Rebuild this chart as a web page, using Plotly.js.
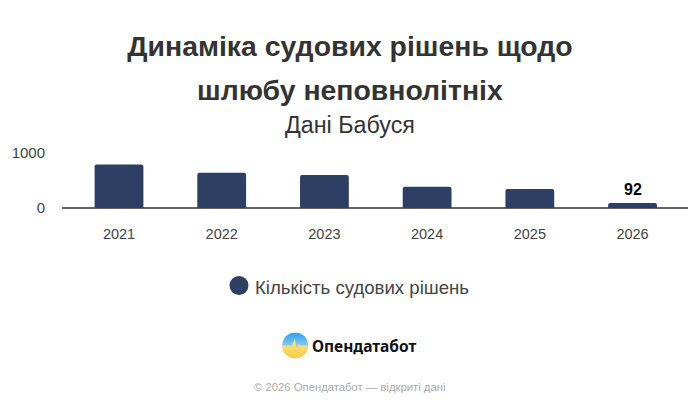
<!DOCTYPE html>
<html>
<head>
<meta charset="utf-8">
<script src="https://cdn.plot.ly/plotly-3.0.1.min.js"></script>
<style>html,body{margin:0;padding:0;background:#fff}#c{width:700px;height:408px}</style>
</head>
<body>
<div id="c"></div>
<script>
const years = ['2021','2022','2023','2024','2025','2026'];
const decisions = [790,640,600,385,345,92];
const barLabels = ['','','','','','92'];
const yTicks = [0,1000];
const seriesName = 'Кількість судових рішень';
const titleLine1 = 'Динаміка судових рішень щодо';
const titleLine2 = 'шлюбу неповнолітніх';
const subtitleText = 'Дані Бабуся';
const brandName = 'Опендатабот';
const footerText = '© 2026 Опендатабот — відкриті дані';

const FONT = '"Liberation Sans", Arial, sans-serif';
const logoSvg = `<svg xmlns="http://www.w3.org/2000/svg" width="104" height="104" viewBox="0 0 26 26">
<defs><linearGradient id="b" x1="0" y1="0" x2="0" y2="1"><stop offset="0" stop-color="#2f9bea"/><stop offset="0.55" stop-color="#8fd0f0"/></linearGradient>
<linearGradient id="y" x1="0" y1="0" x2="0" y2="1"><stop offset="0.2" stop-color="#fbe27a"/><stop offset="1" stop-color="#f8cb45"/></linearGradient></defs>
<circle cx="13" cy="13" r="13" fill="url(#b)"/>
<path d="M0 13 H10 L12.5 6 L14.5 15.5 L16.5 11.5 L18 13 H26 A13 13 0 0 1 0 13 Z" fill="url(#y)"/>
</svg>`;

const PH = 55;
const px = x => (x-62)/626;
const py = y => (208-y)/PH;

const data = [{
  type:'bar', x:years, y:decisions, name:seriesName,
  width:0.475,
  marker:{color:'#2d3f63', cornerradius:2},
  hoverinfo:'skip', showlegend:false
}];

const valueLabels = years.map((yr,i)=>({text:barLabels[i], x:i, y:decisions[i], xref:'x', yref:'y',
  showarrow:false, xanchor:'center', yanchor:'bottom', yshift:3,
  font:{family:FONT,size:16,color:'#000',weight:700}})).filter(a=>a.text);

const layout = {
  width:700, height:408, paper_bgcolor:'#fff', plot_bgcolor:'#fff',
  margin:{l:62,r:12,t:153,b:200,pad:0},
  showlegend:false,
  font:{family:FONT,color:'#444'},
  title:{text:titleLine1, font:{family:FONT,size:28.4,color:'#333',weight:700},
         x:0.5, xanchor:'center', xref:'container', y:1-46/408, yanchor:'middle', yref:'container', automargin:false},
  xaxis:{type:'category', range:[-0.555,5.54], showgrid:false, zeroline:false,
         showline:false,
         ticks:'outside', ticklen:13, tickcolor:'rgba(0,0,0,0)',
         tickfont:{family:FONT,size:14.5,color:'#444'}},
  yaxis:{range:[0,1000], tickvals:yTicks, ticktext:yTicks.map(String),
         showgrid:true, gridcolor:'#eeeeee', gridwidth:1,
         zeroline:true, zerolinecolor:'#666', zerolinewidth:1.5, showline:false,
         ticks:'outside', ticklen:13, tickcolor:'rgba(0,0,0,0)',
         tickfont:{family:FONT,size:15,color:'#444'}},
  shapes:[{type:'circle', xref:'paper', yref:'paper',
           xsizemode:'pixel', ysizemode:'pixel', xanchor:px(239), yanchor:py(285.5),
           x0:-9.5, x1:9.5, y0:-9.5, y1:9.5, fillcolor:'#2d3f63', line:{width:0}}],
  images:[{source:'data:image/svg+xml;charset=utf-8,'+encodeURIComponent(logoSvg),
           xref:'paper', yref:'paper', x:px(282.2), y:py(332.4),
           sizex:26/626, sizey:26/PH, xanchor:'left', yanchor:'top', sizing:'stretch', layer:'above'}],
  annotations:valueLabels.concat([
    {text:titleLine2, xref:'paper', yref:'paper', x:px(350), y:py(90), showarrow:false,
     xanchor:'center', yanchor:'middle', font:{family:FONT,size:28.4,color:'#333',weight:700}},
    {text:subtitleText, xref:'paper', yref:'paper', x:px(350), y:py(125), showarrow:false,
     xanchor:'center', yanchor:'middle', font:{family:FONT,size:23.3,color:'#333'}},
    {text:seriesName, xref:'paper', yref:'paper', x:px(255), y:py(287), showarrow:false,
     xanchor:'left', yanchor:'middle', xshift:-2, font:{family:FONT,size:18.6,color:'#444'}},
    {text:brandName, xref:'paper', yref:'paper', x:px(312), y:py(346), showarrow:false,
     xanchor:'left', yanchor:'middle', xshift:-2, font:{family:'"Noto Sans", sans-serif',size:15.5,color:'#111',weight:700}},
    {text:footerText, xref:'paper', yref:'paper', x:px(349), y:py(386.5), showarrow:false,
     xanchor:'center', yanchor:'middle', font:{family:FONT,size:11.3,color:'#aaa'}}
  ])
};
Plotly.newPlot('c', data, layout, {displayModeBar:false, staticPlot:true});
</script>
</body>
</html>
